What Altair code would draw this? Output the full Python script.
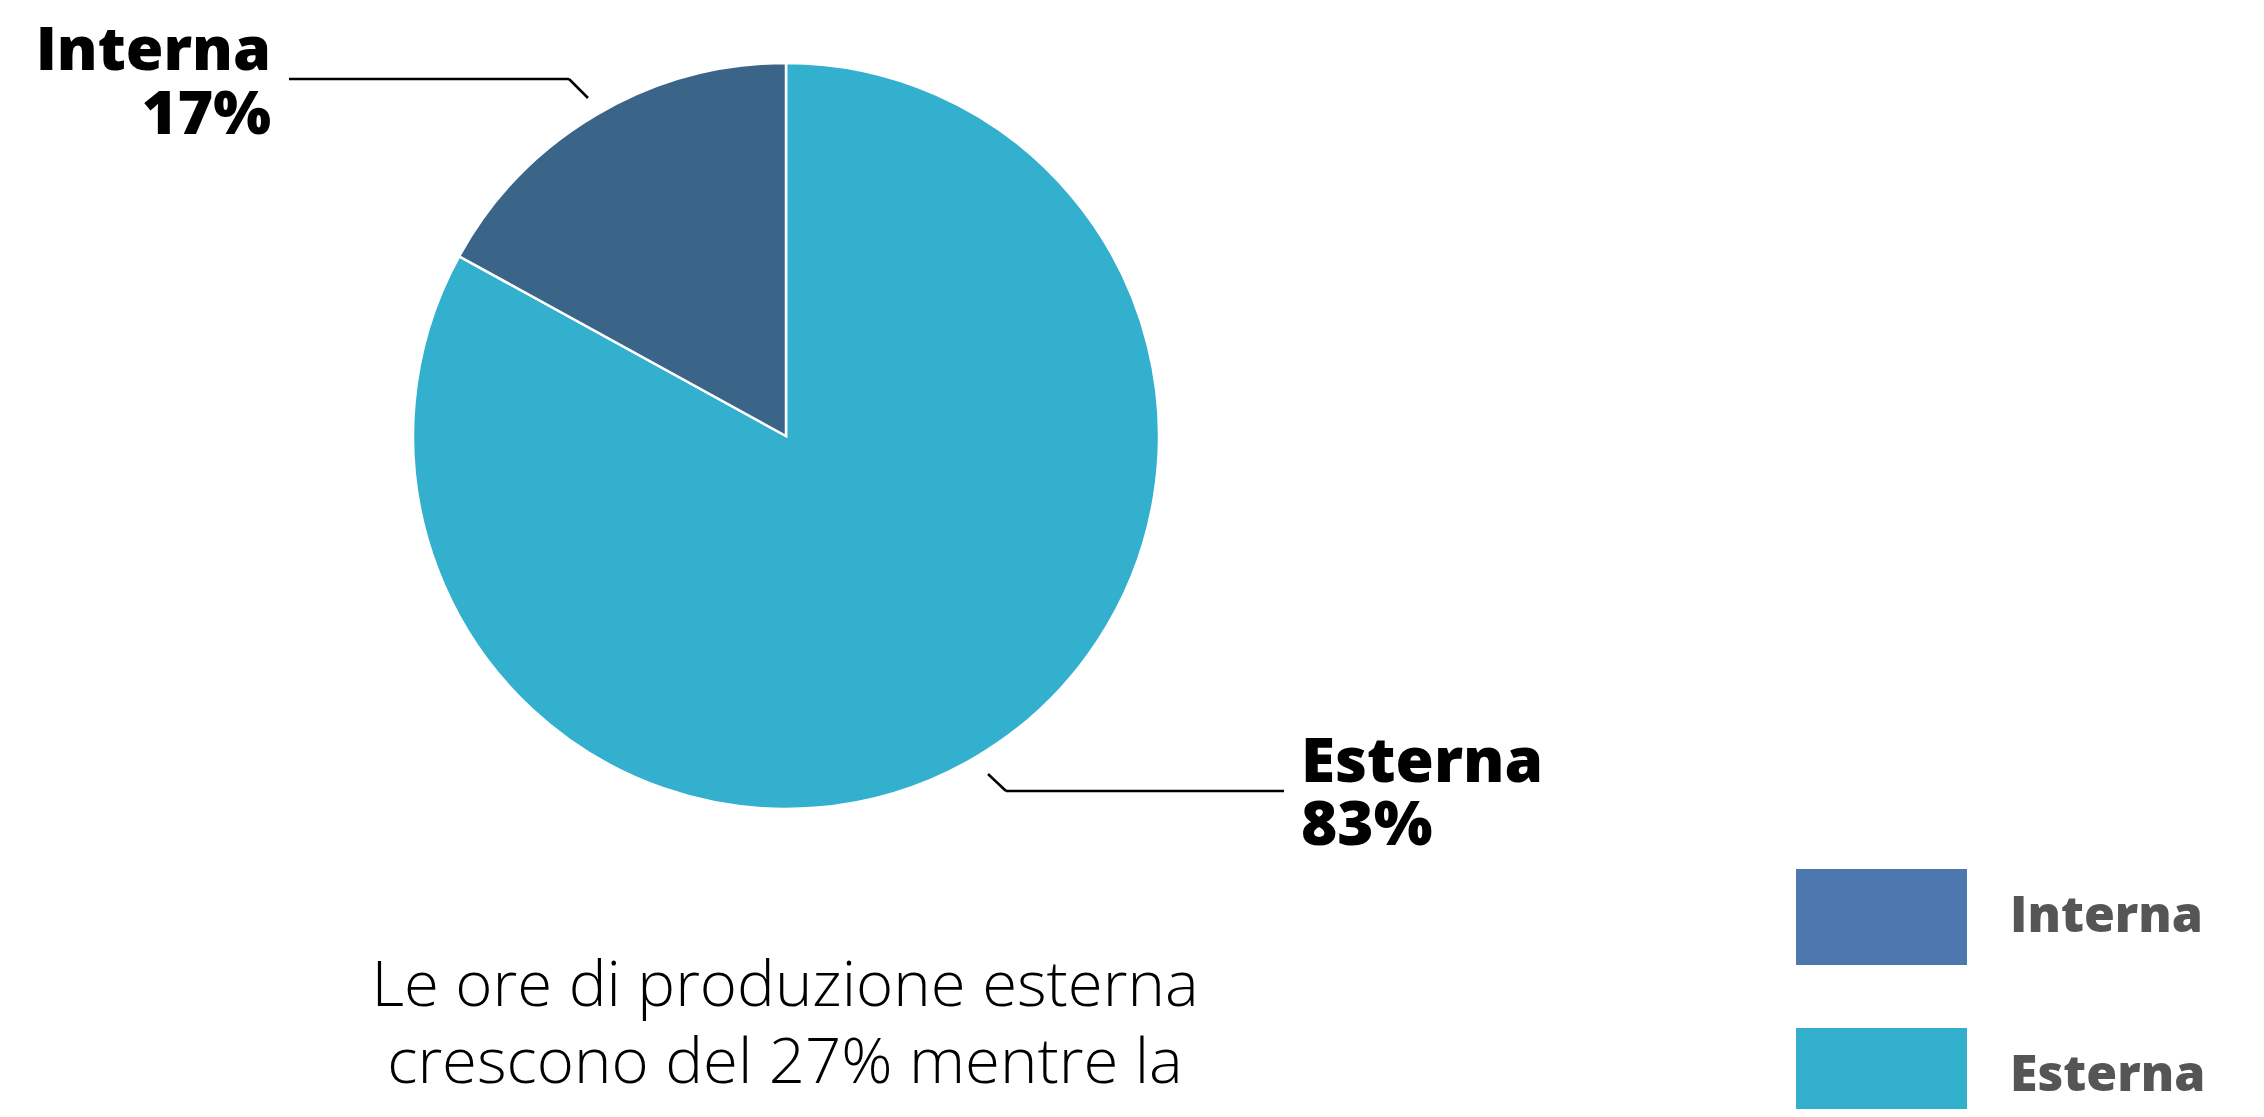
import altair as alt
import pandas as pd

# ---- data ----
categories = ["Esterna", "Interna"]
shares = [83, 17]
pie_colors = ["#34b0cf", "#3b6489"]
legend_order = ["Interna", "Esterna"]
legend_colors = ["#4c78af", "#33afce"]
note_lines = [
    "Le ore di produzione esterna",
    "crescono del 27% mentre la",
    "produzione diminuisce del 12%",
]

pie_df = pd.DataFrame({"cat": categories, "share": shares})
label_df = pd.DataFrame({
    "cat": categories,
    "label": [f"{c}\n{v}%" for c, v in zip(categories, shares)],
})
legend_df = pd.DataFrame({"cat": legend_order})
note_df = pd.DataFrame({"txt": ["\n".join(note_lines)]})

BOLD = "Open Sans"
LIGHT = "Open Sans"

pie = alt.Chart(pie_df).mark_arc(
    outerRadius=373, stroke="white", strokeWidth=2.5
).encode(
    theta=alt.Theta("share:Q", stack=True),
    order=alt.Order("share:Q", sort="descending"),
    color=alt.Color("cat:N", scale=alt.Scale(domain=categories, range=pie_colors), legend=None),
    x=alt.value(778),
    y=alt.value(428),
)

lab_int = alt.Chart(label_df).transform_filter(alt.datum.cat == "Interna").mark_text(
    align="right", baseline="alphabetic", font=BOLD, fontWeight=800, fontSize=61,
    lineBreak="\n", lineHeight=64, color="black"
).encode(text="label:N", x=alt.value(263), y=alt.value(62))

lab_ext = alt.Chart(label_df).transform_filter(alt.datum.cat == "Esterna").mark_text(
    align="left", baseline="alphabetic", font=BOLD, fontWeight=800, fontSize=62,
    lineBreak="\n", lineHeight=63, color="black"
).encode(text="label:N", x=alt.value(1293), y=alt.value(774))

def seg(x1, y1, x2, y2):
    return alt.Chart(pie_df.head(1)).mark_rule(color="black", strokeWidth=2.5).encode(
        x=alt.value(x1), y=alt.value(y1), x2=alt.value(x2), y2=alt.value(y2)
    )

leaders = [
    seg(281, 71, 561, 71), seg(561, 71, 580, 90),
    seg(980, 766, 998, 783), seg(998, 783, 1276, 783),
]

ysc = alt.Scale(domain=legend_order, range=[861, 1116], paddingInner=0.396, paddingOuter=0)
leg_rect = alt.Chart(legend_df).mark_rect().encode(
    y=alt.Y("cat:N", scale=ysc, axis=None),
    x=alt.value(1788), x2=alt.value(1959),
    fill=alt.Fill("cat:N", scale=alt.Scale(domain=legend_order, range=legend_colors), legend=None),
)
leg_text = alt.Chart(legend_df).mark_text(
    align="left", baseline="middle", font=BOLD, fontWeight=800, fontSize=50, color="#555555"
).encode(
    y=alt.Y("cat:N", scale=ysc, axis=None),
    x=alt.value(2002),
    text="cat:N",
)

note = alt.Chart(note_df).mark_text(
    align="center", baseline="alphabetic", font=LIGHT, fontWeight=300, fontSize=63.5,
    lineBreak="\n", lineHeight=76.5, color="black"
).encode(text="txt:N", x=alt.value(777), y=alt.value(998))

chart = alt.layer(pie, *leaders, lab_int, lab_ext, leg_rect, leg_text, note).resolve_scale(
    color="independent", fill="independent"
).properties(
    width=2248, height=1101,
    autosize=alt.AutoSizeParams(type="none"), padding=0,
).configure_view(stroke=None)

chart.save("out.html", embed_options={"renderer": "svg", "actions": False})
